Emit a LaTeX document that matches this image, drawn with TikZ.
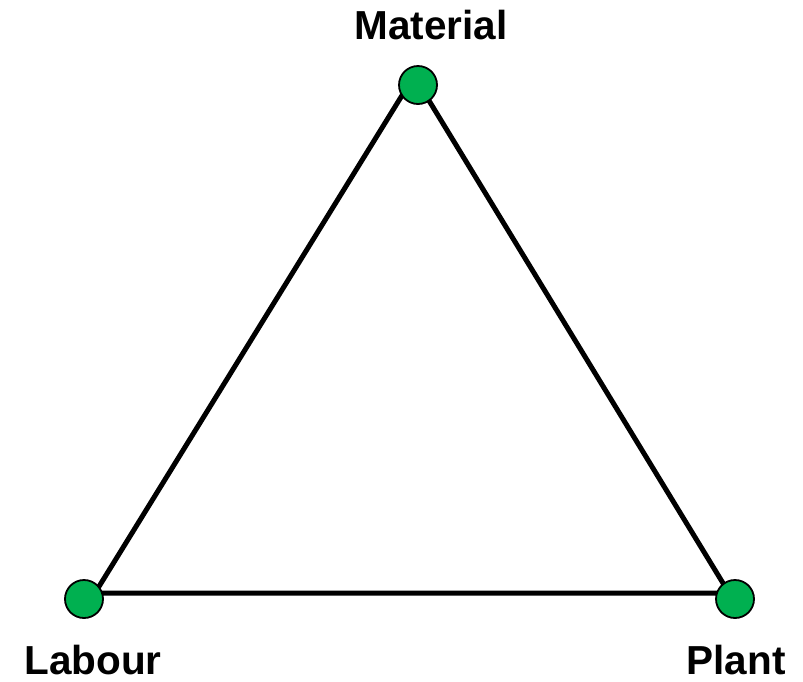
\documentclass[tikz,border=0pt]{standalone}
\usepackage{fontspec}
\setmainfont{Liberation Sans}
\definecolor{dotgreen}{RGB}{0,176,80}
\begin{document}
\begin{tikzpicture}[x=1pt,y=-1pt,
  edge/.style={line width=5pt, line cap=round, line join=round},
  dot/.style={circle, draw=black, line width=1.8pt, fill=dotgreen, minimum size=38pt, inner sep=0pt},
  lab/.style={font=\bfseries\fontsize{40.5}{42}\selectfont, anchor=base, inner sep=0pt}]
\useasboundingbox (0,0) rectangle (803,681);
\coordinate (tM) at (414,76);
\coordinate (tL) at (95,593);
\coordinate (tP) at (729,593);
\draw[edge] (tL) -- (tM) -- (tP) -- cycle;
\node[dot] (M) at (418,85) {};
\node[dot] (L) at (84,599) {};
\node[dot] (P) at (735,599) {};
\node[lab] (lM) at (431,39) {Material};
\node[lab] (lL) at (93,674) {Labour};
\node[lab] (lP) at (736,674) {Plant};
\end{tikzpicture}
\end{document}
